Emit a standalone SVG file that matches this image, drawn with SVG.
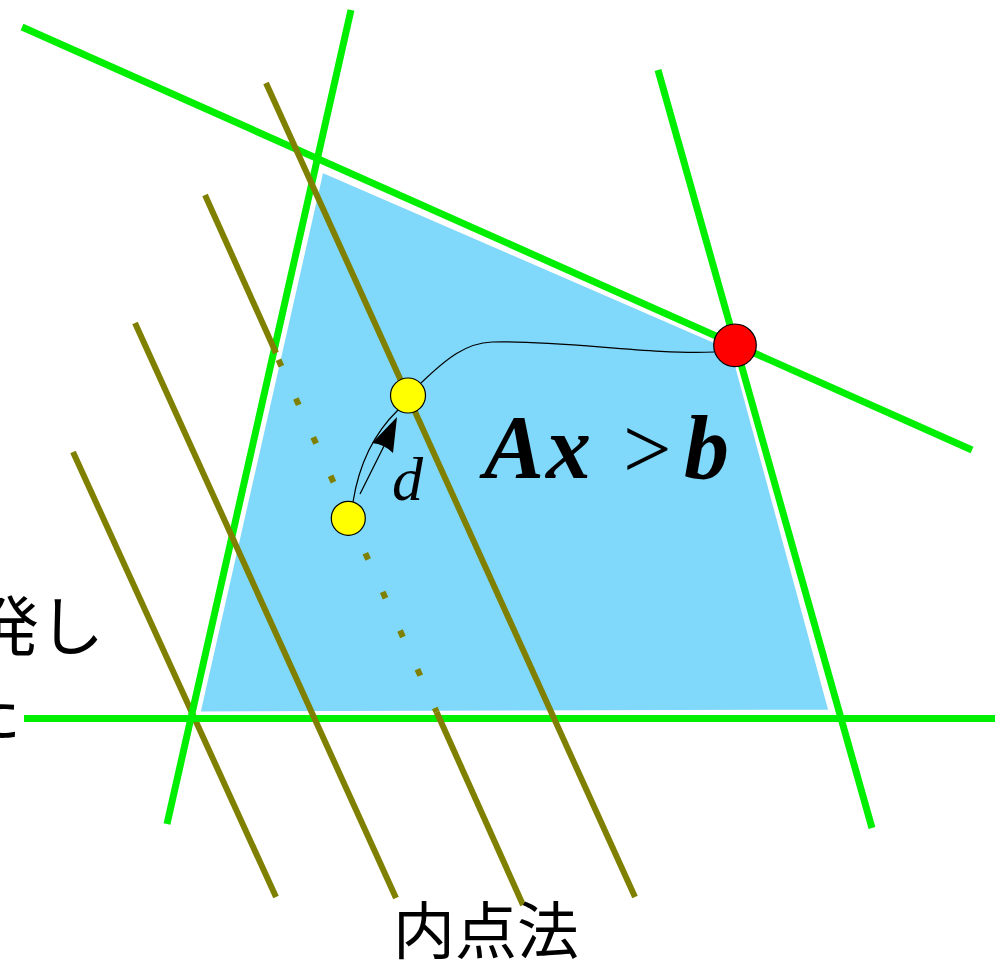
<svg xmlns="http://www.w3.org/2000/svg" width="995" height="966" viewBox="0 0 995 966">
<style>
.g{stroke:#00ee00;stroke-width:7;fill:none}
.o{stroke:#808000;stroke-width:6;fill:none}
.thin{stroke:#000;stroke-width:1.2;fill:none}
.pt{stroke:#000;stroke-width:1.2}
.cjk{font-family:"Noto Sans CJK JP","Noto Sans CJK SC",sans-serif;fill:#000}
.math{font-family:"Liberation Serif","DejaVu Serif",serif;fill:#000}
</style>
<rect width="995" height="966" fill="#fff"/>
<g id="region">
<polygon points="322,171 732,349 830,711 199,713" fill="#80d8fa" stroke="#fff" stroke-width="3"/>
</g>
<g id="connectors">
<line class="o" x1="73" y1="452" x2="276" y2="897"/>
<line class="g" x1="22" y1="27" x2="972" y2="450"/>
<line class="g" x1="351" y1="10" x2="167" y2="824"/>
<line class="g" x1="658" y1="70" x2="872" y2="828"/>
<line class="g" x1="24" y1="718.5" x2="995" y2="718.5"/>
<line class="o" x1="266" y1="83" x2="635" y2="897"/>
<line class="o" x1="205" y1="195" x2="276" y2="353"/>
<path class="o" d="M278.5,359.8 L436.6,712" stroke-dasharray="7 35.4"/>
<line class="o" x1="436.6" y1="712" x2="523" y2="905"/>
<line class="o" x1="135" y1="323" x2="396" y2="898"/>
<path class="thin" d="M421,383 C447,358 466,343 492,342 C560,340 650,355 714,352"/>
<path class="thin" d="M353,502 Q362,445 398,410"/>
<line class="thin" x1="360" y1="494" x2="384" y2="446"/>
<path d="M397,417 L372,443 Q384,444 393,453 Z" fill="#000"/>
</g>
<g id="point-start"><circle class="pt" cx="348.3" cy="518.3" r="17" fill="#ffff00"/></g>
<g id="point-next"><circle class="pt" cx="408" cy="395.5" r="17.5" fill="#ffff00"/></g>
<g id="point-opt"><circle class="pt" cx="735" cy="345.3" r="21.3" fill="#ff0000"/></g>
<g id="label-d"><text class="math" x="392" y="500" font-size="62" font-style="italic">d</text></g>
<g id="label-constraint"><text class="math" y="478" font-size="90"><tspan x="484" font-weight="bold" font-style="italic">A</tspan><tspan x="546" font-weight="bold" font-style="italic">x</tspan><tspan x="623" font-size="86">&gt;</tspan><tspan x="684" font-weight="bold" font-style="italic">b</tspan></text></g>
<g id="label-left"><text class="cjk" x="104" y="650" font-size="65" text-anchor="end">発し</text><text class="cjk" x="21" y="736" font-size="65" text-anchor="end">た</text></g>
<g id="label-bottom"><text class="cjk" x="393" y="954" font-size="62">内点法</text></g>
</svg>
